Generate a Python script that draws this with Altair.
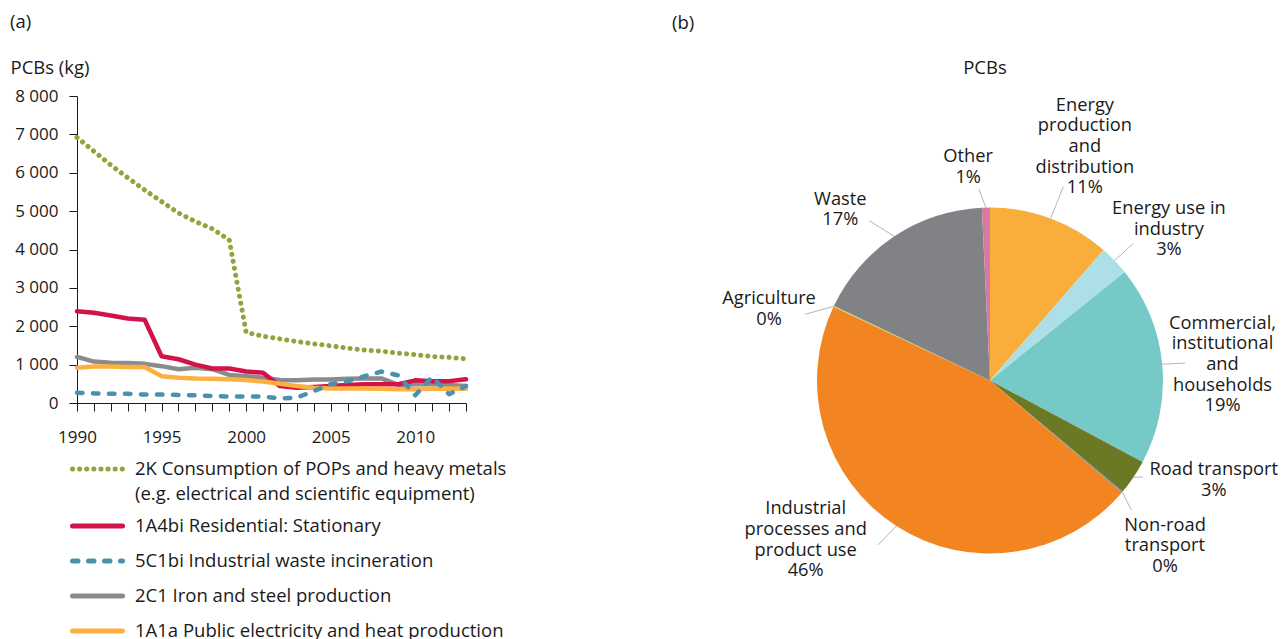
import altair as alt
import pandas as pd

FONT = "Open Sans"
INK = "#1a1a1a"

# ---------------- panel (a) data ----------------
YEARS = list(range(1990, 2014))
SERIES_KEYS = ["2K", "1A4bi", "5C1bi", "2C1", "1A1a"]
SERIES_LABELS = [
    "2K Consumption of POPs and heavy metals\n(e.g. electrical and scientific equipment)",
    "1A4bi Residential: Stationary",
    "5C1bi Industrial waste incineration",
    "2C1 Iron and steel production",
    "1A1a Public electricity and heat production",
]
V_2K = [6920, 6560, 6200, 5870, 5550, 5250, 4950, 4730, 4540, 4250, 1840, 1740,
        1670, 1600, 1540, 1490, 1430, 1380, 1350, 1300, 1260, 1210, 1190, 1150]
V_1A4BI = [2390, 2350, 2280, 2200, 2170, 1220, 1140, 1000, 900, 900, 820, 790,
           440, 400, 420, 440, 470, 490, 490, 490, 590, 570, 570, 620]
V_5C1BI = [270, 250, 240, 240, 220, 220, 210, 200, 180, 170, 170, 170,
           120, 140, 310, 490, 570, 700, 820, 720, 200, 680, 230, 440]
V_2C1 = [1200, 1080, 1050, 1040, 1020, 960, 880, 920, 880, 730, 700, 660,
         600, 590, 610, 610, 630, 640, 640, 470, 490, 490, 470, 440]
V_1A1A = [920, 950, 950, 940, 940, 700, 660, 640, 630, 620, 600, 560,
          500, 440, 400, 380, 380, 380, 370, 360, 360, 370, 380, 370]
SERIES_VALUES = [V_2K, V_1A4BI, V_5C1BI, V_2C1, V_1A1A]
Y_TICKS = list(range(0, 8001, 1000))
X_LABEL_YEARS = [1990, 1995, 2000, 2005, 2010]

# ---------------- panel (b) data ----------------
PIE_NAMES = [
    "Energy production and distribution", "Energy use in industry",
    "Commercial, institutional and households", "Road transport",
    "Non-road transport", "Industrial processes and product use",
    "Agriculture", "Waste", "Other",
]
PIE_LABEL_LINES = [
    "Energy\nproduction\nand\ndistribution", "Energy use in\nindustry",
    "Commercial,\ninstitutional\nand\nhouseholds", "Road transport",
    "Non-road\ntransport", "Industrial\nprocesses and\nproduct use",
    "Agriculture", "Waste", "Other",
]
PIE_VALUES = [11.4, 2.8, 18.6, 3.3, 0.1, 45.8, 0.1, 17.15, 0.75]

# ---------------- styles / layout ----------------
SERIES_COLORS = ["#8EA53C", "#D3124A", "#4A92AB", "#8B8B8E", "#FBB03F"]
SERIES_DASH = [[0.1, 7], None, [5.5, 10.5], None, None]
SERIES_WIDTH = [5, 4.5, 4.5, 4.5, 4.5]
DRAW_ORDER = [3, 1, 4, 2, 0]
PIE_COLORS = ["#F9AE3B", "#ADE0E6", "#75CAC7", "#6B7824", "#4D93B5",
              "#F38422", "#C6D54F", "#818285", "#D67B9F"]
# label placement: (angle nudge deg, label radius, leader nudge deg, leader radius)
LABEL_LAYOUT = [
    (1.6, 252, 0.2, 207), (3.8, 234, 0.2, 198), (1.6, 233, 0.3, 196),
    (-10.0, 245, -1.8, 181), (3.3, 241, 2.4, 192), (16.3, 244, 1.5, 199),
    (-7.6, 232, -5.7, 196.5), (-7.7, 227, -3.5, 200), (-4.5, 214, -2.0, 192),
]
W_A, H_A = 389, 307
W_B, H_B = 590, 307
CX, CY, R = 318, 284.5, 173
FS_TICK = 17
FS = 18.5
PIE_FS, PIE_LH = 18.3, 20.7
LEG_TOP, LEG_TXT_LH, LEG_EXTRA_LH, LEG_ROW = 373, 25, 22, 35

# ---------------- panel (a) ----------------
line_df = pd.DataFrame(
    [{"year": y, "series": k, "value": v}
     for k, vals in zip(SERIES_KEYS, SERIES_VALUES) for y, v in zip(YEARS, vals)]
)

x_enc = alt.X(
    "year:Q",
    scale=alt.Scale(domain=[YEARS[0], YEARS[-1]], nice=False, zero=False),
    axis=alt.Axis(
        values=YEARS, title=None, grid=False, tickSize=8, labelPadding=18,
        labelExpr="indexof(%s, datum.value) >= 0 ? datum.value + '' : ''" % X_LABEL_YEARS,
        labelOverlap=False, labelFlush=False, domainColor=INK, tickColor=INK,
        labelColor=INK, labelFontSize=FS_TICK, labelFont=FONT,
    ),
)
y_enc = alt.Y(
    "value:Q",
    scale=alt.Scale(domain=[0, 8000], nice=False),
    axis=alt.Axis(
        values=Y_TICKS, grid=False, tickSize=8, labelPadding=11,
        labelExpr="replace(format(datum.value, ','), ',', ' ')",
        labelFlush=False, domainColor=INK, tickColor=INK, labelColor=INK,
        labelFontSize=FS_TICK, labelFont=FONT,
        title="PCBs (kg)", titleAngle=0, titleAlign="left", titleBaseline="middle",
        titleX=-67, titleY=-29, titleFontSize=FS, titleFontWeight="normal",
        titleColor=INK, titleFont=FONT,
    ),
)

line_layers = []
for i in DRAW_ORDER:
    kw = dict(color=SERIES_COLORS[i], strokeWidth=SERIES_WIDTH[i],
              strokeCap="round", strokeJoin="round")
    if SERIES_DASH[i]:
        kw["strokeDash"] = SERIES_DASH[i]
    line_layers.append(
        alt.Chart(line_df)
        .transform_filter(alt.datum.series == SERIES_KEYS[i])
        .mark_line(**kw)
        .encode(x=x_enc, y=y_enc)
    )
lines = alt.layer(*line_layers)

# manual legend
n_lines = [s.count("\n") + 1 for s in SERIES_LABELS]
pos, acc = [], 0.0
for n in n_lines:
    pos.append(acc)
    acc += (n - 1) * LEG_EXTRA_LH + LEG_ROW
leg_df = pd.DataFrame({"key": SERIES_KEYS, "label": SERIES_LABELS, "pos": pos})
leg_y = alt.Scale(domain=[0, pos[-1]], range=[LEG_TOP, LEG_TOP + pos[-1]])
leg_layers = []
for i in range(len(SERIES_KEYS)):
    kw = dict(color=SERIES_COLORS[i], strokeWidth=5, strokeCap="round")
    if SERIES_DASH[i]:
        kw["strokeDash"] = SERIES_DASH[i]
    leg_layers.append(
        alt.Chart(leg_df)
        .transform_filter(alt.datum.key == SERIES_KEYS[i])
        .mark_rule(**kw)
        .encode(x=alt.value(-4.5), x2=alt.value(45.5),
                y=alt.Y("pos:Q", scale=leg_y, axis=None))
    )
leg_txt = alt.Chart(leg_df).mark_text(
    align="left", baseline="middle", font=FONT, fontSize=FS, color=INK,
    lineBreak="\n", lineHeight=LEG_TXT_LH,
).encode(
    x=alt.value(58),
    y=alt.Y("pos:Q", scale=leg_y, axis=None),
    text="label:N",
)
legend = alt.layer(*leg_layers, leg_txt)

panel_a = (
    alt.layer(lines, legend)
    .resolve_scale(y="independent")
    .properties(width=W_A, height=H_A,
                title=alt.Title("(a)", anchor="start", offset=27))
)

# ---------------- panel (b) ----------------
pie_df = pd.DataFrame({
    "name": PIE_NAMES,
    "value": PIE_VALUES,
    "order": list(range(len(PIE_NAMES))),
    "label": [f"{t}\n{round(v)}%" for t, v in zip(PIE_LABEL_LINES, PIE_VALUES)],
    "nl": [t.count("\n") + 2 for t in PIE_LABEL_LINES],
    "ln": [l[0] for l in LABEL_LAYOUT],
    "lr": [l[1] for l in LABEL_LAYOUT],
    "en": [l[2] for l in LABEL_LAYOUT],
    "er": [l[3] for l in LABEL_LAYOUT],
})

arcs = alt.Chart(pie_df).mark_arc(outerRadius=R).encode(
    theta=alt.Theta("value:Q", stack=True),
    order=alt.Order("order:Q"),
    color=alt.Color("name:N", scale=alt.Scale(domain=PIE_NAMES, range=PIE_COLORS), legend=None),
    x=alt.value(CX), y=alt.value(CY),
)

geo = (
    alt.Chart(pie_df)
    .transform_window(cum="sum(value)", sort=[alt.SortField("order")], frame=[None, 0])
    .transform_joinaggregate(total="sum(value)")
    .transform_calculate(mid="(datum.cum - datum.value / 2) / datum.total * 2 * PI")
    .transform_calculate(
        lx=f"{CX} + datum.lr * sin(datum.mid + datum.ln * PI / 180)",
        ly=f"{CY} - datum.lr * cos(datum.mid + datum.ln * PI / 180) - (datum.nl - 1) * {PIE_LH} / 2",
        rx=f"{CX} + {R} * sin(datum.mid)",
        ry=f"{CY} - {R} * cos(datum.mid)",
        ex=f"{CX} + datum.er * sin(datum.mid + datum.en * PI / 180)",
        ey=f"{CY} - datum.er * cos(datum.mid + datum.en * PI / 180)",
    )
)
leaders = geo.mark_rule(color="#b5b5b5", strokeWidth=1).encode(
    x=alt.X("rx:Q", scale=None), y=alt.Y("ry:Q", scale=None),
    x2="ex:Q", y2="ey:Q",
)
labels = geo.mark_text(
    align="center", baseline="middle", font=FONT, fontSize=PIE_FS, color=INK,
    lineBreak="\n", lineHeight=PIE_LH,
).encode(
    x=alt.X("lx:Q", scale=None), y=alt.Y("ly:Q", scale=None), text="label:N",
)
pie_title = alt.Chart(pd.DataFrame({"t": ["PCBs"]})).mark_text(
    align="center", baseline="middle", font=FONT, fontSize=FS, color=INK,
).encode(x=alt.value(313), y=alt.value(-28), text="t:N")

panel_b = alt.layer(arcs, leaders, labels, pie_title).properties(
    width=W_B, height=H_B, title=alt.Title("(b)", anchor="start", offset=27)
)

chart = (
    alt.hconcat(panel_a, panel_b, spacing=206, bounds="flush")
    .resolve_scale(color="independent")
    .properties(padding={"left": 2, "top": 4, "right": 0, "bottom": 0})
    .configure_view(stroke=None)
    .configure_title(font=FONT, fontSize=FS, fontWeight="normal", color=INK, anchor="start")
    .configure_text(font=FONT)
)

chart.save("out.html", embed_options={"renderer": "svg", "actions": False})
